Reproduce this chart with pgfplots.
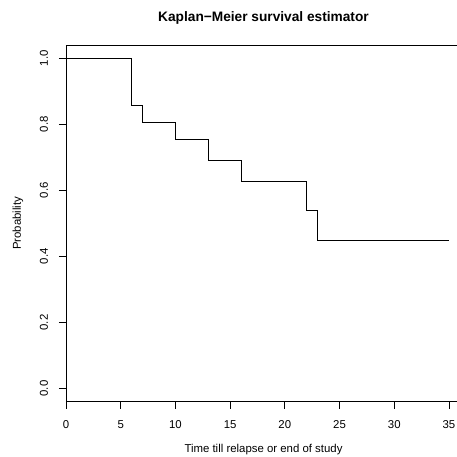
\documentclass[border=0pt]{standalone}
\usepackage{pgfplots}
\pgfplotsset{compat=1.18}
\usepackage{fontspec}
\setmainfont{Liberation Sans}
\begin{document}
\begin{tikzpicture}
\begin{axis}[
  scale only axis, width=395pt, height=356.7pt,
  xmin=0, xmax=36.1, ymin=-0.04, ymax=1.04,
  axis x line=box, axis y line=left,
  axis line style={-, line width=0.9pt, black},
  xtick={0,5,10,15,20,25,30,35}, ytick={0,0.2,0.4,0.6,0.8,1.0},
  xtick pos=lower, ytick pos=left,
  tick align=outside, major tick length=7pt,
  tick style={black, line width=0.9pt},
  /pgf/number format/assume math mode=true,
  ticklabel style={font=\fontsize{11.4}{13}\selectfont, inner sep=0pt},
  yticklabel style={/pgf/number format/fixed, /pgf/number format/fixed zerofill, /pgf/number format/precision=1, rotate=90, anchor=base},
  xticklabel style={anchor=base},
  xticklabel shift=19.5pt, yticklabel shift=11pt,
  title={Kaplan−Meier survival estimator},
  title style={at={(0.5,1)}, anchor=base, yshift=17pt, inner sep=0pt, font=\bfseries\fontsize{13.7}{15}\selectfont},
  xlabel={Time till relapse or end of study},
  ylabel={Probability},
  label style={font=\fontsize{11.4}{13}\selectfont, inner sep=0pt},
  xlabel style={at={(0.5,0)}, anchor=base, yshift=-50.3pt},
  ylabel style={at={(0,0.5)}, anchor=base, rotate=-90, xshift=-45pt, rotate=90},
]
\addplot[const plot, black, line width=0.9pt] coordinates {
  (0,1.0) (6,0.857) (7,0.807) (10,0.753) (13,0.690) (16,0.627) (22,0.538) (23,0.448) (35,0.448)
};
\coordinate (SW) at (rel axis cs:0,0);
\end{axis}
\pgfresetboundingbox
\useasboundingbox ([shift={(-66pt,-55.3pt)}]SW) rectangle ([shift={(390pt,401.7pt)}]SW);
\end{tikzpicture}
\end{document}
